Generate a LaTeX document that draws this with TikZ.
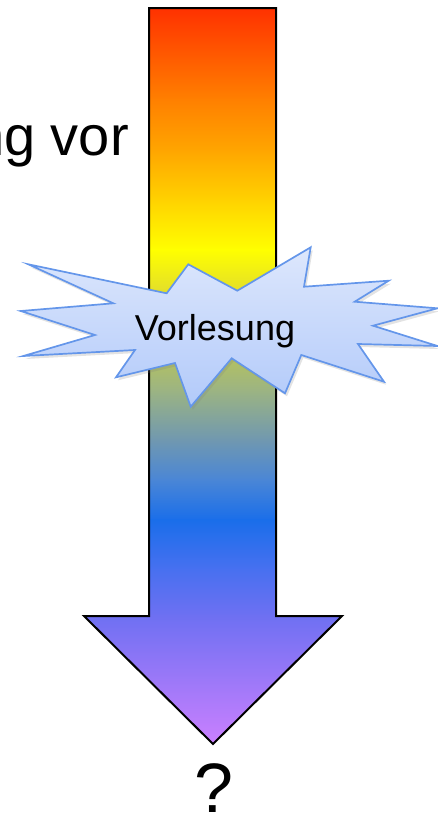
\documentclass[tikz,border=0pt]{standalone}
\usepackage{fontspec}
\setmainfont{Liberation Sans}
\usetikzlibrary{shadows}
\definecolor{s1}{HTML}{FF3000}
\definecolor{s2}{HTML}{FF8000}
\definecolor{s3}{HTML}{FFA500}
\definecolor{s4}{HTML}{FFD200}
\definecolor{s5}{HTML}{FFFF00}
\definecolor{s6}{HTML}{E4E028}
\definecolor{s7}{HTML}{C0C850}
\definecolor{s8}{HTML}{9CB482}
\definecolor{s9}{HTML}{7098B0}
\definecolor{s10}{HTML}{4A86D6}
\definecolor{s11}{HTML}{1A6EEA}
\definecolor{s12}{HTML}{4870F0}
\definecolor{s13}{HTML}{6E70F2}
\definecolor{s14}{HTML}{9C78F8}
\definecolor{s15}{HTML}{CC80FF}
\definecolor{startop}{HTML}{DDE7FC}
\definecolor{starbot}{HTML}{B2CAFA}
\definecolor{starline}{HTML}{6496EA}
\tikzset{
  bigtext/.style={font=\fontsize{56}{60}\selectfont, inner sep=0pt},
  startext/.style={font=\fontsize{36}{40}\selectfont, inner sep=0pt},
  qtext/.style={font=\fontsize{70}{74}\selectfont, inner sep=0pt},
  arrowline/.style={draw=black, line width=2pt, line join=miter},
  starshape/.style={draw=starline, line width=1.7pt, line join=miter, top color=startop, bottom color=starbot,
    drop shadow={opacity=0.22, shadow xshift=2pt, shadow yshift=-3pt}}
}
\begin{document}
\begin{tikzpicture}[x=1pt,y=-1pt]
\useasboundingbox (0,0) rectangle (438,817);
\clip (0,0) rectangle (438,817);
% partial text at upper left
\node[bigtext, anchor=base east] (pre) at (129,155) {ng vor};
% gradient arrow
\begin{scope}
  \clip (149,8) -- (276,8) -- (276,616) -- (342,616) -- (213,744) -- (84,616) -- (149,616) -- cycle;
  \foreach \ya/\ca/\yb/\cb in {7/s1/100/s2, 100/s2/150/s3, 150/s3/200/s4, 200/s4/250/s5,
      250/s5/290/s6, 290/s6/340/s7, 340/s7/390/s8, 390/s8/440/s9, 440/s9/480/s10,
      480/s10/520/s11, 520/s11/570/s12, 570/s12/616/s13, 616/s13/680/s14, 680/s14/746/s15}{
    \shade[top color=\ca, bottom color=\cb] (80,\ya-0.4) rectangle (346,\yb+0.4);
  }
\end{scope}
\draw[arrowline] (149,8) -- (276,8) -- (276,616) -- (342,616) -- (213,744) -- (84,616) -- (149,616) -- cycle;
% starburst
\path[starshape] (28.3,264.3) -- (166.7,293.3) -- (188.3,264.3) -- (237.3,290.7) -- (310.7,247.3)
  -- (304,286.7) -- (388.7,280.7) -- (354.7,301.7) -- (437.5,308.3) -- (373,325.7) -- (437.5,346)
  -- (358,344) -- (384,381.7) -- (301.3,355) -- (285,393.3) -- (231.7,358.3) -- (190.7,406.7)
  -- (175,363) -- (116,377.3) -- (135,350) -- (23.3,356) -- (95,335) -- (20.7,311) -- (113.3,303.3) -- cycle;
\node[startext, anchor=base] (vl) at (215,340) {Vorlesung};
% question mark
\node[qtext, anchor=base] (q) at (214,812) {?};
\end{tikzpicture}
\end{document}
